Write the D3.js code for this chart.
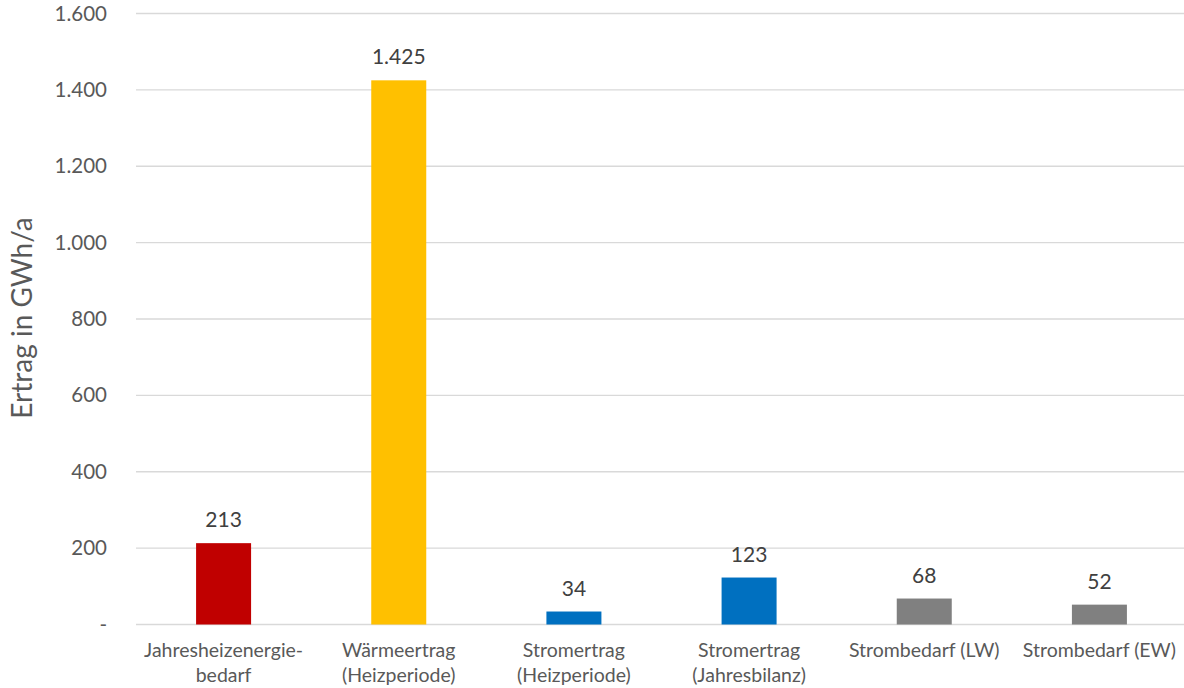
<!DOCTYPE html>
<html><head><meta charset="utf-8">
<script src="https://cdn.jsdelivr.net/npm/d3@7"></script>
<style>body{margin:0;background:#fff;} text{font-family:"Lato","Open Sans",sans-serif;}</style>
</head><body>
<svg id="c" width="1184" height="688"></svg>
<script>
const categories = [["Jahresheizenergie-","bedarf"],["Wärmeertrag","(Heizperiode)"],["Stromertrag","(Heizperiode)"],["Stromertrag","(Jahresbilanz)"],["Strombedarf (LW)"],["Strombedarf (EW)"]];
const values = [213, 1425, 34, 123, 68, 52];
const colors = ["#C00000","#FFC000","#0070C0","#0070C0","#808080","#808080"];
const yTicks = [0,200,400,600,800,1000,1200,1400,1600];
const yTitle = "Ertrag in GWh/a";

const svg = d3.select("#c");
const fmt = v => v === 0 ? "-" : d3.formatLocale({decimal:",",thousands:".",grouping:[3],currency:["","€"]}).format(",")(v);
const x = d3.scaleBand().domain(d3.range(values.length)).range([136, 1187]).paddingInner(0.686).paddingOuter(0.343);
const y = d3.scaleLinear().domain([0,1600]).range([624.5, 13.5]);

// gridlines
svg.append("g").selectAll("line").data(yTicks).join("line")
  .attr("x1",136).attr("x2",1184).attr("y1",d=>y(d)).attr("y2",d=>y(d))
  .attr("stroke","#d9d9d9").attr("stroke-width",1.3);

// y axis tick labels
const ya = svg.append("g").attr("transform","translate(107,0)")
  .call(d3.axisLeft(y).tickValues(yTicks).tickFormat(fmt).tickSize(0).tickPadding(0));
ya.select(".domain").remove();
ya.selectAll("text").attr("font-size",20.5).attr("fill","#595959").style("font-family","Lato, sans-serif");

// bars
svg.append("g").selectAll("rect").data(values).join("rect")
  .attr("x",(d,i)=>x(i)).attr("width",x.bandwidth())
  .attr("y",d=>y(d)).attr("height",d=>y(0)-y(d))
  .attr("fill",(d,i)=>colors[i]);

// data labels
svg.append("g").selectAll("text").data(values).join("text")
  .attr("x",(d,i)=>x(i)+x.bandwidth()/2).attr("y",d=>y(d)-16)
  .attr("text-anchor","middle").attr("font-size",21).attr("fill","#404040")
  .text(d=>fmt(d));

// category labels
const cl = svg.append("g").selectAll("text").data(categories).join("text")
  .attr("x",(d,i)=>x(i)+x.bandwidth()/2).attr("y",657)
  .attr("text-anchor","middle").attr("font-size",19.5).attr("fill","#595959");
cl.selectAll("tspan").data(d=>d).join("tspan")
  .attr("x",function(){return this.parentNode.getAttribute("x");})
  .attr("dy",(d,i)=>i===0?0:25).text(d=>d);

// y title
svg.append("text").attr("transform","translate(32,318) rotate(-90)")
  .attr("text-anchor","middle").attr("font-size",28).attr("fill","#595959").text(yTitle);
</script>
</body></html>
